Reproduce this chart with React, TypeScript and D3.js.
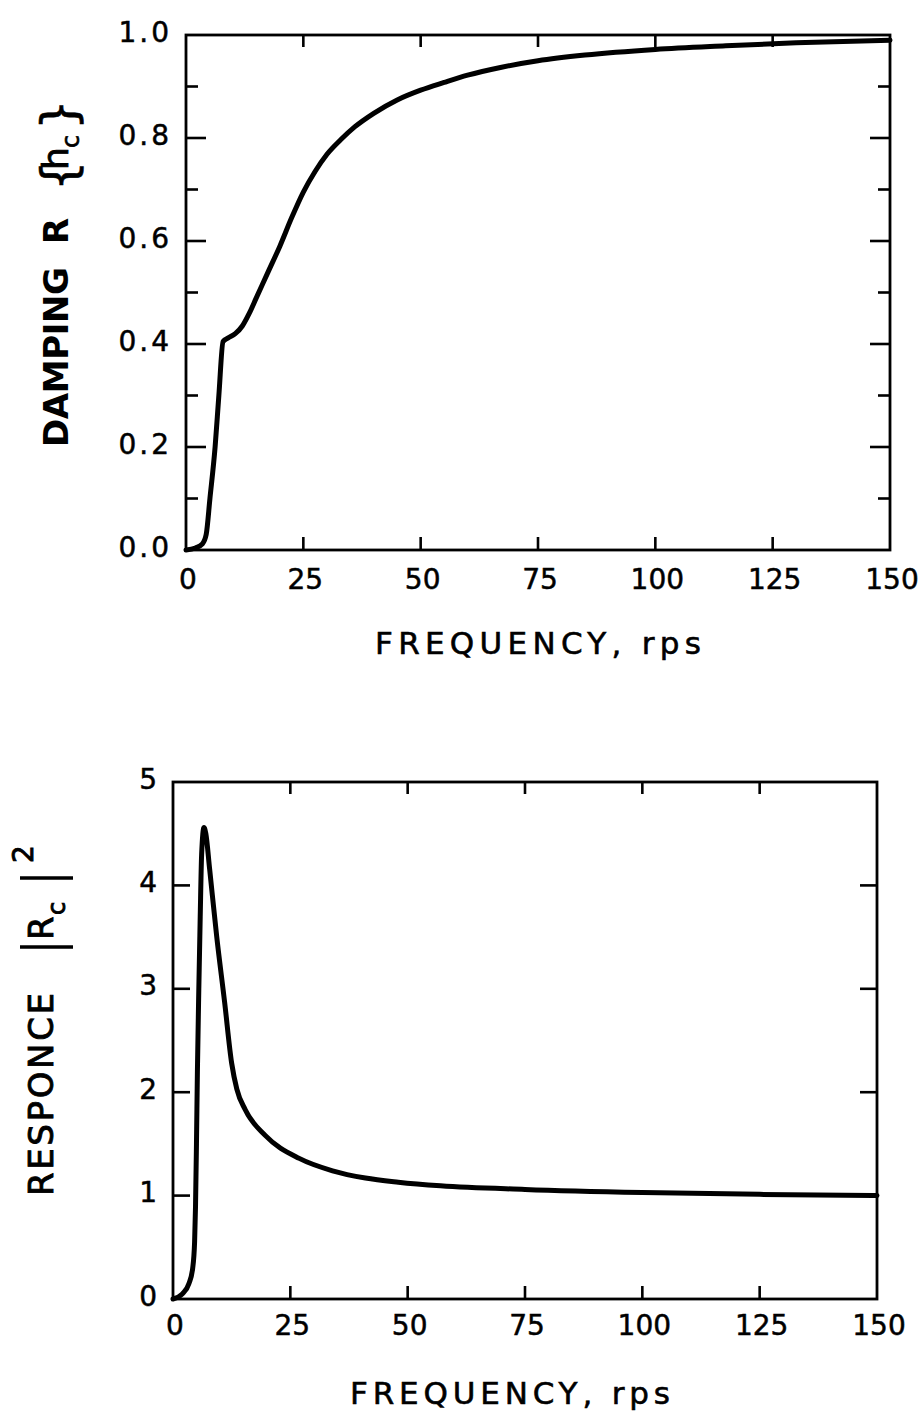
import React from 'react';
import * as d3 from 'd3';

// ---------- data ----------
const freqTicks = [0, 25, 50, 75, 100, 125, 150];
const innerFreqTicks = [25, 50, 75, 100, 125];

const dampMajorTicks = [0, 0.2, 0.4, 0.6, 0.8, 1.0];
const dampMinorTicks = [0.1, 0.3, 0.5, 0.7, 0.9];
const dampTickLabels = ['0.0', '0.2', '0.4', '0.6', '0.8', '1.0'];

const respMajorTicks = [0, 1, 2, 3, 4, 5];
const respTickLabels = ['0', '1', '2', '3', '4', '5'];

// Damping R{h_c} vs frequency (rps)
const dampFreq = [0, 2, 3.5, 4.3, 5.1, 6.2, 7.0, 7.9, 9, 10.5, 12, 13.5, 15, 17.5, 20, 22.5, 25, 27.5, 30, 33, 36, 40, 45, 50, 55, 60, 67, 75, 85, 100, 115, 130, 150];
const dampValue = [0, 0.004, 0.012, 0.03, 0.1, 0.2, 0.3, 0.405, 0.412, 0.42, 0.435, 0.46, 0.49, 0.54, 0.59, 0.645, 0.695, 0.735, 0.768, 0.797, 0.822, 0.848, 0.874, 0.893, 0.908, 0.922, 0.937, 0.95, 0.961, 0.972, 0.979, 0.985, 0.99];

// Response |R_c|^2 vs frequency (rps)
const respFreq = [0, 2, 3.4, 4.2, 4.6, 4.8, 5.0, 5.2, 5.5, 5.8, 6.1, 6.6, 7.0, 7.8, 9.3, 11, 12.5, 13.6, 15.4, 19.7, 26.9, 34, 41, 48, 57, 75, 100, 125, 150];
const respValue = [0, 0.05, 0.15, 0.3, 0.55, 0.9, 1.5, 2.2, 3.0, 3.7, 4.3, 4.56, 4.5, 4.16, 3.51, 2.87, 2.28, 2.03, 1.83, 1.58, 1.36, 1.24, 1.17, 1.13, 1.095, 1.06, 1.03, 1.012, 1.0];

const FONT = '"DejaVu Sans", "Liberation Sans", sans-serif';
const INK = '#000';

type Box = { L: number; R: number; T: number; B: number };

function Panel(props: {
  box: Box;
  yDomain: [number, number];
  yMajor: number[];
  yMinor: number[];
  yLabels: string[];
  xs: number[];
  ys: number[];
  yLabelX: number;
  xLabelY: number;
  majorLen: number;
  minorLen: number;
  labelSpacing: number;
}) {
  const { box, yDomain, yMajor, yMinor, yLabels, xs, ys, yLabelX, xLabelY, majorLen, minorLen, labelSpacing } = props;
  const x = d3.scaleLinear().domain([0, 150]).range([box.L, box.R]);
  const y = d3.scaleLinear().domain(yDomain).range([box.B, box.T]);
  const pts: [number, number][] = xs.map((v, i) => [v, ys[i]]);
  const line = d3
    .line<[number, number]>()
    .x((d) => x(d[0]))
    .y((d) => y(d[1]))
    .curve(d3.curveMonotoneX);
  const innerMajor = yMajor.filter((v) => v !== yDomain[0] && v !== yDomain[1]);
  return (
    <g>
      <rect x={box.L} y={box.T} width={box.R - box.L} height={box.B - box.T} fill="none" stroke={INK} strokeWidth={2.8} />
      {innerFreqTicks.map((v) => (
        <g key={'xt' + v}>
          <line x1={x(v)} x2={x(v)} y1={box.T} y2={box.T + 12} stroke={INK} strokeWidth={2.6} />
          <line x1={x(v)} x2={x(v)} y1={box.B} y2={box.B - 13} stroke={INK} strokeWidth={2.6} />
        </g>
      ))}
      {innerMajor.map((v) => (
        <g key={'ym' + v}>
          <line x1={box.L} x2={box.L + majorLen} y1={y(v)} y2={y(v)} stroke={INK} strokeWidth={2.6} />
          <line x1={box.R} x2={box.R - majorLen} y1={y(v)} y2={y(v)} stroke={INK} strokeWidth={2.6} />
        </g>
      ))}
      {yMinor.map((v) => (
        <g key={'yn' + v}>
          <line x1={box.L} x2={box.L + minorLen} y1={y(v)} y2={y(v)} stroke={INK} strokeWidth={2.6} />
          <line x1={box.R} x2={box.R - minorLen} y1={y(v)} y2={y(v)} stroke={INK} strokeWidth={2.6} />
        </g>
      ))}
      <path d={line(pts) || ''} fill="none" stroke={INK} strokeWidth={5} strokeLinejoin="round" strokeLinecap="round" />
      {yMajor.map((v, i) => (
        <text
          key={'yl' + v}
          x={yLabelX}
          y={y(v) - 3}
          textAnchor="end"
          dominantBaseline="central"
          fontFamily={FONT}
          fontSize={28}
          letterSpacing={labelSpacing}
          fill={INK}
          stroke={INK}
          strokeWidth={0.5}
        >
          {yLabels[i]}
        </text>
      ))}
      {freqTicks.map((v) => (
        <text
          key={'xl' + v}
          x={x(v) + 2}
          y={xLabelY}
          textAnchor="middle"
          fontFamily={FONT}
          fontSize={28}
          fill={INK}
          stroke={INK}
          strokeWidth={0.5}
        >
          {String(v)}
        </text>
      ))}
    </g>
  );
}

export default function App() {
  const topBox: Box = { L: 186, R: 890, T: 35, B: 550 };
  const botBox: Box = { L: 173, R: 877, T: 782, B: 1299 };
  return (
    <div style={{ position: 'absolute', left: 0, top: 0, width: 921, height: 1418, background: '#fff' }}>
      <svg width={921} height={1418} viewBox="0 0 921 1418" style={{ display: 'block' }}>
        <rect x={0} y={0} width={921} height={1418} fill="#fff" />
        <Panel
          box={topBox}
          yDomain={[0, 1]}
          yMajor={dampMajorTicks}
          yMinor={dampMinorTicks}
          yLabels={dampTickLabels}
          xs={dampFreq}
          ys={dampValue}
          yLabelX={172}
          xLabelY={589}
          majorLen={20}
          minorLen={12}
          labelSpacing={3}
        />
        <text
          x={538}
          y={654}
          textAnchor="middle"
          fontFamily={FONT}
          fontSize={31}
          textLength={326}
          lengthAdjust="spacing"
          fill={INK}
          stroke={INK}
          strokeWidth={0.6}
        >
          FREQUENCY, rps
        </text>
        <g transform="translate(68,447) rotate(-90)" fontFamily={FONT} fill={INK}>
          <text x={0} y={0} fontSize={34} fontWeight="bold" textLength={180} lengthAdjust="spacing">DAMPING</text>
          <text x={203} y={0} fontSize={34} fontWeight="bold">R</text>
          <text x={256} y={8} fontSize={48} stroke={INK} strokeWidth={0.6}>{'{'}</text>
          <text x={277} y={0} fontSize={36} stroke={INK} strokeWidth={0.8}>h</text>
          <text x={299} y={11} fontSize={24} stroke={INK} strokeWidth={0.6}>c</text>
          <text x={317} y={8} fontSize={48} stroke={INK} strokeWidth={0.6}>{'}'}</text>
        </g>

        <Panel
          box={botBox}
          yDomain={[0, 5]}
          yMajor={respMajorTicks}
          yMinor={[]}
          yLabels={respTickLabels}
          xs={respFreq}
          ys={respValue}
          yLabelX={157}
          xLabelY={1335}
          majorLen={17}
          minorLen={0}
          labelSpacing={0}
        />
        <text
          x={510}
          y={1404}
          textAnchor="middle"
          fontFamily={FONT}
          fontSize={31}
          textLength={320}
          lengthAdjust="spacing"
          fill={INK}
          stroke={INK}
          strokeWidth={0.6}
        >
          FREQUENCY, rps
        </text>
        <g transform="translate(53,1196) rotate(-90)" fontFamily={FONT} fill={INK} stroke={INK} strokeWidth={0.9}>
          <text x={0} y={0} fontSize={34} textLength={203} lengthAdjust="spacing">RESPONCE</text>
          <line x1={249} x2={249} y1={-33} y2={20} stroke={INK} strokeWidth={3.4} />
          <text x={256} y={0} fontSize={34}>R</text>
          <text x={281} y={12} fontSize={24}>c</text>
          <line x1={318} x2={318} y1={-33} y2={20} stroke={INK} strokeWidth={3.4} />
          <text x={333} y={-20} fontSize={28}>2</text>
        </g>
      </svg>
    </div>
  );
}
